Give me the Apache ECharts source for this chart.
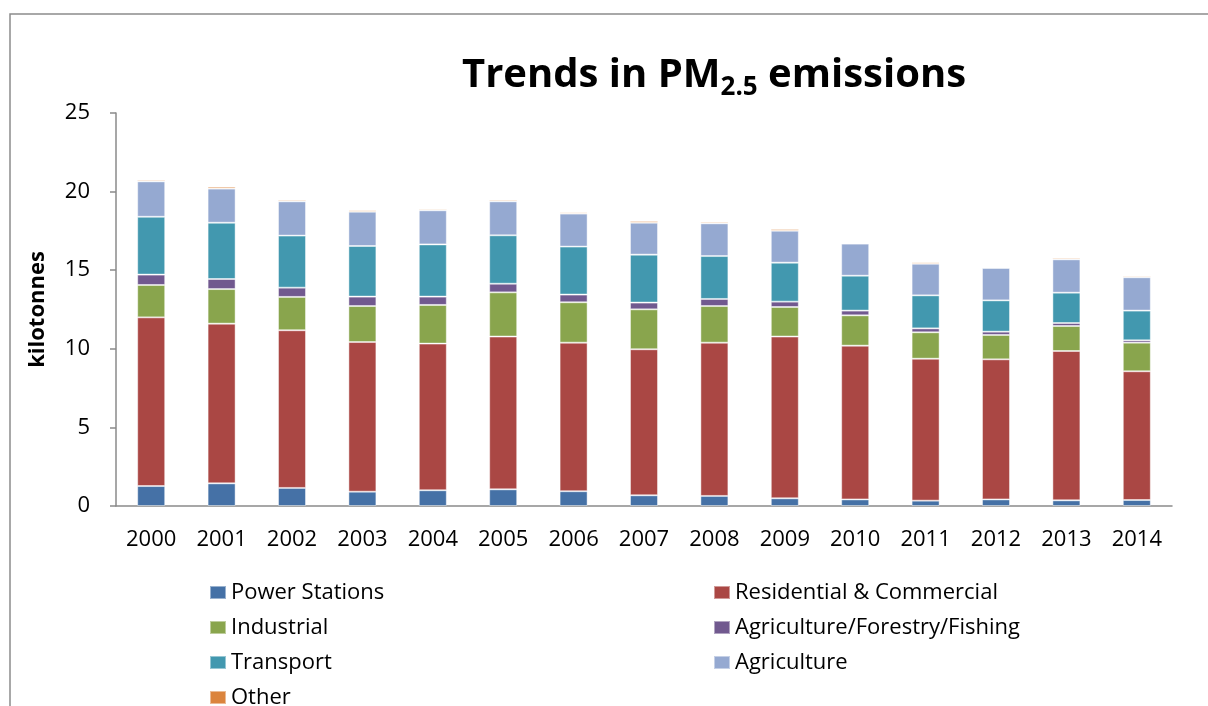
<!DOCTYPE html>
<html>
<head>
<meta charset="utf-8">
<script src="https://cdn.jsdelivr.net/npm/echarts@6/dist/echarts.min.js"></script>
<style>
  html, body { margin: 0; padding: 0; background: #fff; }
  #chart { width: 1208px; height: 706px; }
</style>
</head>
<body>
<div id="chart"></div>
<script>
// years on the x axis
var years = ["2000", "2001", "2002", "2003", "2004", "2005", "2006", "2007",
  "2008", "2009", "2010", "2011", "2012", "2013", "2014"];

// kilotonnes per sector
var powerStations = [1.27, 1.44, 1.15, 0.91, 1.00, 1.06, 0.94, 0.68, 0.64, 0.49, 0.42, 0.34, 0.42, 0.36, 0.38];
var residential = [10.73, 10.16, 10.03, 9.52, 9.33, 9.72, 9.45, 9.29, 9.75, 10.29, 9.78, 9.03, 8.91, 9.50, 8.19];
var industrial = [2.06, 2.20, 2.12, 2.29, 2.46, 2.81, 2.57, 2.54, 2.33, 1.88, 1.93, 1.68, 1.55, 1.59, 1.82];
var agriForestryFishing = [0.66, 0.64, 0.59, 0.60, 0.53, 0.55, 0.49, 0.43, 0.45, 0.34, 0.30, 0.25, 0.21, 0.19, 0.15];
var transport = [3.68, 3.58, 3.31, 3.22, 3.32, 3.08, 3.05, 3.05, 2.73, 2.48, 2.22, 2.10, 1.99, 1.93, 1.89];
var agriculture = [2.25, 2.17, 2.18, 2.18, 2.17, 2.16, 2.10, 2.03, 2.08, 2.03, 2.04, 2.01, 2.06, 2.12, 2.12];
var other = [0.09, 0.12, 0.09, 0.09, 0.08, 0.09, 0.08, 0.11, 0.09, 0.11, 0.06, 0.09, 0.06, 0.09, 0.08];

var yTicks = [0, 5, 10, 15, 20, 25];

var font = "'Open Sans', Lato, sans-serif";
var axisGrey = "#8a8a8a";

var chart = echarts.init(document.getElementById("chart"));

function bar(name, data, color) {
  return {
    name: name,
    type: "bar",
    stack: "total",
    barWidth: 28,
    data: data,
    itemStyle: {
      color: color,
      borderColor: "rgba(255,255,255,0.45)",
      borderWidth: 1
    }
  };
}

var legendBase = {
  orient: "vertical",
  top: 581,
  height: 160,
  padding: 0,
  icon: "rect",
  itemWidth: 16,
  itemHeight: 13,
  itemGap: 12,
  textStyle: { fontSize: 22, color: "#000", fontFamily: font, lineHeight: 23 }
};

var option = {
  animation: false,
  backgroundColor: "#fff",
  textStyle: { fontFamily: font, color: "#000" },
  graphic: [
    {
      type: "rect",
      shape: { x: 10, y: 14, width: 1240, height: 760 },
      style: { fill: "none", stroke: "#8c8c8c", lineWidth: 1.5 },
      silent: true
    }
  ],
  title: {
    text: "{a|Trends in PM}{s|2.5}{a| emissions}",
    left: 457,
    top: 48,
    textStyle: {
      rich: {
        a: { fontFamily: font, fontSize: 40, fontWeight: "bold", color: "#000", lineHeight: 46 },
        s: { fontFamily: font, fontSize: 26, fontWeight: "bold", color: "#000", lineHeight: 46, padding: [24, 0, 0, 0] }
      }
    }
  },
  grid: { left: 116, right: 36, top: 113, bottom: 200, containLabel: false },
  xAxis: {
    type: "category",
    data: years,
    axisLine: { lineStyle: { color: axisGrey, width: 1.5 } },
    axisTick: { length: 6, lineStyle: { color: axisGrey, width: 1.5 } },
    axisLabel: { fontSize: 22, color: "#000", margin: 23, fontFamily: font }
  },
  yAxis: {
    type: "value",
    min: yTicks[0],
    max: yTicks[yTicks.length - 1],
    interval: 5,
    name: "kilotonnes",
    nameLocation: "middle",
    nameGap: 67,
    nameRotate: 90,
    nameTextStyle: { fontSize: 22, fontWeight: "bold", color: "#000", fontFamily: font },
    axisLine: { show: true, lineStyle: { color: axisGrey, width: 1.5 } },
    axisTick: { show: true, length: 6, lineStyle: { color: axisGrey, width: 1.5 } },
    axisLabel: { fontSize: 22, color: "#000", margin: 26, fontFamily: font },
    splitLine: { show: false }
  },
  legend: [
    Object.assign({}, legendBase, {
      left: 209,
      data: ["Power Stations", "Industrial", "Transport", "Other"]
    }),
    Object.assign({}, legendBase, {
      left: 713,
      data: ["Residential & Commercial", "Agriculture/Forestry/Fishing", "Agriculture"]
    })
  ],
  series: [
    bar("Power Stations", powerStations, "#4571a6"),
    bar("Residential & Commercial", residential, "#aa4744"),
    bar("Industrial", industrial, "#89a54d"),
    bar("Agriculture/Forestry/Fishing", agriForestryFishing, "#71598f"),
    bar("Transport", transport, "#4298af"),
    bar("Agriculture", agriculture, "#95a9d1"),
    bar("Other", other, "#db843d")
  ]
};

chart.setOption(option);
</script>
</body>
</html>
